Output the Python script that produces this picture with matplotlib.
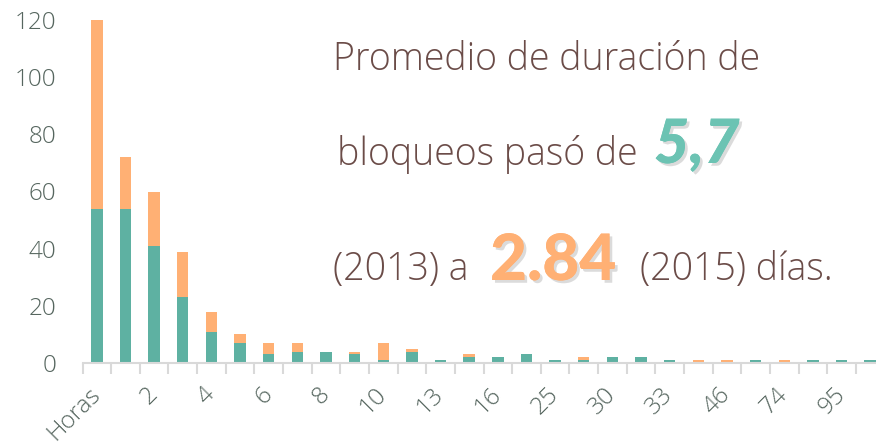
import matplotlib
matplotlib.use("Agg")
import matplotlib.pyplot as plt
import matplotlib.patheffects as pe
import numpy as np

# Duration categories (days, first bucket is "hours")
categories = ["Horas", "1", "2", "3", "4", "5", "6", "7", "8", "9", "10", "11",
              "13", "15", "16", "20", "25", "28", "30", "31", "33", "40",
              "46", "60", "74", "90", "95", "120"]
# Number of blockades per duration: 2015 (teal, bottom) and the remaining 2013 part (orange, top)
teal_vals = [54, 54, 41, 23, 11, 7, 3, 4, 4, 3, 1, 4,
             1, 2, 2, 3, 1, 1, 2, 2, 1, 0,
             0, 1, 0, 1, 1, 1]
orange_vals = [66, 18, 19, 16, 7, 3, 4, 3, 0, 1, 6, 1,
               0, 1, 0, 0, 0, 1, 0, 0, 0, 1,
               1, 0, 1, 0, 0, 0]
y_ticks = [0, 20, 40, 60, 80, 100, 120]

TEAL = "#5EB1A2"
ORANGE = "#FFB074"
TICK_COL = "#56665F"
TEXT_COL = "#6B4C48"
FONT = "Open Sans"

W, H = 876, 445
fig = plt.figure(figsize=(W / 100, H / 100), dpi=100)
ax = fig.add_axes([82.5 / W, 82 / H, 802 / W, 343 / H])

x = np.arange(len(categories))
ax.bar(x, teal_vals, width=0.4, color=TEAL, zorder=2)
ax.bar(x, orange_vals, width=0.4, bottom=teal_vals, color=ORANGE, zorder=2)

ax.set_xlim(-0.5, len(categories) - 0.5)
ax.set_ylim(0, 120)

for s in ["top", "right", "left"]:
    ax.spines[s].set_visible(False)
ax.spines["bottom"].set_color("#D9D9D9")
ax.spines["bottom"].set_linewidth(1.5)

ax.set_yticks(y_ticks)
ax.set_yticklabels([str(v) for v in y_ticks], fontsize=17.5, color=TICK_COL,
                   family=FONT, fontweight="light")
ax.tick_params(axis="y", length=0, pad=19)

# Category labels on every other bar; tick marks sit between bars
ax.set_xticks(x)
ax.set_xticklabels([c if i % 2 == 0 else "" for i, c in enumerate(categories)],
                   fontsize=17.5, color=TICK_COL, family=FONT, fontweight="light")
ax.tick_params(axis="x", which="major", length=0, pad=20)
for lbl in ax.get_xticklabels():
    lbl.set_rotation(45)
    lbl.set_ha("right")
    lbl.set_va("center")
    lbl.set_rotation_mode("anchor")
ax.set_xticks(np.arange(-0.5, len(categories), 1), minor=True)
ax.tick_params(axis="x", which="minor", length=8, width=1.5, color="#D9D9D9")


def ftext(px, py, s, **kw):
    return fig.text(px / W, 1 - py / H, s, va="baseline", ha="left", **kw)


main = dict(fontsize=27, color=TEXT_COL, family=FONT, fontweight="light")
shadow = [pe.withSimplePatchShadow(offset=(2, -2), shadow_rgbFace="#8a8a8a", alpha=0.3),
          pe.Normal()]

ftext(333, 70, "Promedio de duración de", **main)
ftext(337, 165, "bloqueos pasó de", **main)
ftext(654, 163, "5,7", fontsize=44, color="#6CC3B3", family="Lato",
      fontweight="black", fontstyle="italic", path_effects=shadow)
ftext(333, 280, "(2013) a", **main)
ftext(490, 280, "2.84", fontsize=46, color=ORANGE, family="Lato",
      fontweight="black", path_effects=shadow)
ftext(640, 280, "(2015) días.", **main)

fig.savefig("out.png", dpi=100)
